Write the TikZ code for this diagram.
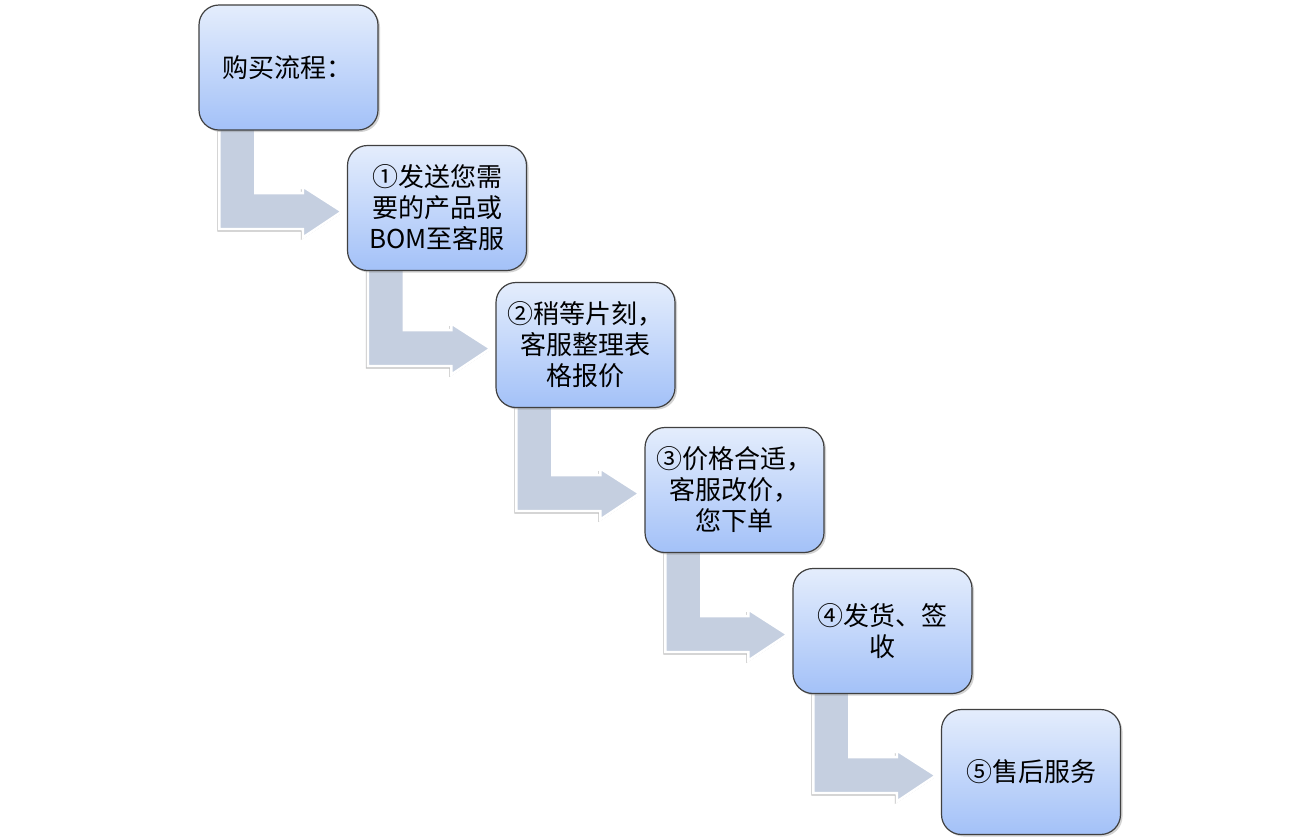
\documentclass[tikz,border=0pt]{standalone}
\usepackage{fontspec}
\setmainfont{Noto Sans CJK SC}
\usetikzlibrary{calc,shadows}
\pgfdeclarelayer{background}
\pgfdeclarelayer{arrows}
\pgfsetlayers{background,arrows,main}
\definecolor{boxtop}{RGB}{228,237,252}
\definecolor{boxbot}{RGB}{163,193,248}
\definecolor{boxline}{RGB}{64,64,64}
\definecolor{arrowfill}{RGB}{197,207,224}
\tikzset{
  stepbox/.style={rectangle, rounded corners=20pt, minimum width=179pt,
    minimum height=125pt, draw=boxline, line width=1.2pt,
    top color=boxtop, bottom color=boxbot, align=center,
    font=\fontsize{26}{31}\selectfont, inner sep=0pt,
    drop shadow={shadow xshift=2pt, shadow yshift=-2pt, opacity=0.35}},
  bentarrow/.style={draw=white, line width=2.5pt, fill=arrowfill,
    line join=miter,
    drop shadow={shadow xshift=-2pt, shadow yshift=-2.5pt, opacity=0.25, fill=black}}
}
\begin{document}
\begin{tikzpicture}[x=1pt,y=-1pt]
\begin{pgfonlayer}{background}
\fill[white] (0,0) rectangle (1303,839);
\end{pgfonlayer}
\useasboundingbox (0,0) rectangle (1303,839);

\node[stepbox, align=left, text width=133pt, inner xsep=23pt] (n0) at (288.5,67.5) {购买流程：};
\node[stepbox] (n1) at (437,208) {①发送您需\\要的产品或\\BOM至客服};
\node[stepbox] (n2) at (585.5,345) {②稍等片刻，\\客服整理表\\格报价};
\node[stepbox] (n3) at (734.5,490) {③价格合适，\\客服改价，\\您下单};
\node[stepbox] (n4) at (882.5,631) {④发货、签\\收};
\node[stepbox] (n5) at (1031,772) {⑤售后服务};

\begin{pgfonlayer}{arrows}
\foreach \i/\j in {0/1,1/2,2/3,3/4,4/5}{
  \coordinate (sl) at ($(n\i.south west)+(21,-5)$);
  \coordinate (sr) at ($(n\i.south west)+(57,-5)$);
  \coordinate (bb) at ($(n\j.west)+(-44,21)$);
  \coordinate (bt) at ($(n\j.west)+(-44,-15)$);
  \coordinate (hb) at ($(n\j.west)+(-44,29.5)$);
  \coordinate (ht) at ($(n\j.west)+(-44,-21.5)$);
  \coordinate (tip) at ($(n\j.west)+(-5,3.5)$);
  \draw[bentarrow] (sl) -- (sl |- bb) -- (bb) -- (hb) -- (tip) -- (ht) -- (bt) -- (sr |- bt) -- (sr) -- cycle;
}
\end{pgfonlayer}
\end{tikzpicture}
\end{document}
